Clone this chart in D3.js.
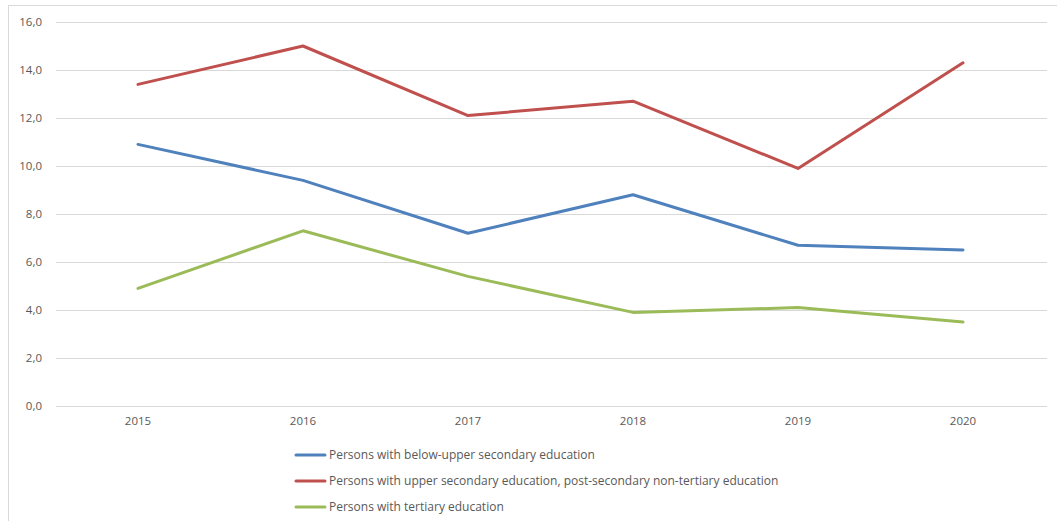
<!DOCTYPE html>
<html><head><meta charset="utf-8">
<script src="https://cdn.jsdelivr.net/npm/d3@7"></script>
<style>body{margin:0;background:#fff}svg{display:block}</style>
</head><body>
<svg id="c" width="1057" height="521"></svg>
<script>
const categories = ["2015","2016","2017","2018","2019","2020"];
const seriesNames = [
  "Persons with below-upper secondary education",
  "Persons with upper secondary education, post-secondary non-tertiary education",
  "Persons with tertiary education"
];
const belowUpper = [10.9, 9.4, 7.2, 8.8, 6.7, 6.5];
const upperSecondary = [13.4, 15.0, 12.1, 12.7, 9.9, 14.3];
const tertiary = [4.9, 7.3, 5.4, 3.9, 4.1, 3.5];
const colors = ["#4F81BD", "#C0504D", "#9BBB59"];
const yTicks = [0, 2, 4, 6, 8, 10, 12, 14, 16];

const series = [belowUpper, upperSecondary, tertiary];
const svg = d3.select("#c");
const font = "'Open Sans', 'Liberation Sans', Arial, sans-serif";

// frame
svg.append("rect").attr("x", 8.5).attr("y", 5.5).attr("width", 1060).attr("height", 530)
  .attr("fill", "none").attr("stroke", "#d9d9d9").attr("stroke-width", 1);

const x = d3.scaleBand().domain(categories).range([55.5, 1045.5]);
const y = d3.scaleLinear().domain([0, 16]).range([406, 22]);

const grid = svg.append("g");
yTicks.forEach(t => {
  grid.append("line").attr("x1", 56).attr("x2", 1047)
    .attr("y1", Math.round(y(t)) + 0.5).attr("y2", Math.round(y(t)) + 0.5)
    .attr("stroke", "#d9d9d9").attr("stroke-width", 1);
});

const yAxis = d3.axisLeft(y).tickValues(yTicks).tickSize(0).tickPadding(0)
  .tickFormat(d => d3.format(".1f")(d).replace(".", ","));
const ga = svg.append("g").attr("transform", "translate(42,0)").call(yAxis);
ga.select(".domain").remove();
ga.selectAll("text").attr("font-family", font).attr("font-size", 11.5).attr("fill", "#595959");

const xAxis = d3.axisBottom(x).tickSize(0).tickPadding(0);
const gx = svg.append("g").attr("transform", "translate(0,417)").call(xAxis);
gx.select(".domain").remove();
gx.selectAll("text").attr("font-family", font).attr("font-size", 11.5).attr("fill", "#595959");

const line = d3.line().x((d, i) => x(categories[i]) + x.bandwidth() / 2).y(d => y(d));
series.forEach((s, k) => {
  svg.append("path").datum(s).attr("d", line).attr("fill", "none")
    .attr("stroke", colors[k]).attr("stroke-width", 3).attr("stroke-linejoin", "round").attr("stroke-linecap", "round");
});

const lg = svg.append("g");
seriesNames.forEach((n, k) => {
  const yy = 455 + k * 26;
  lg.append("line").attr("x1", 296).attr("x2", 325).attr("y1", yy).attr("y2", yy)
    .attr("stroke", colors[k]).attr("stroke-width", 3).attr("stroke-linecap", "round");
  lg.append("text").attr("x", 329).attr("y", yy).attr("dy", "0.35em")
    .attr("font-family", font).attr("font-size", 12).attr("fill", "#595959").text(n);
});
</script>
</body></html>
